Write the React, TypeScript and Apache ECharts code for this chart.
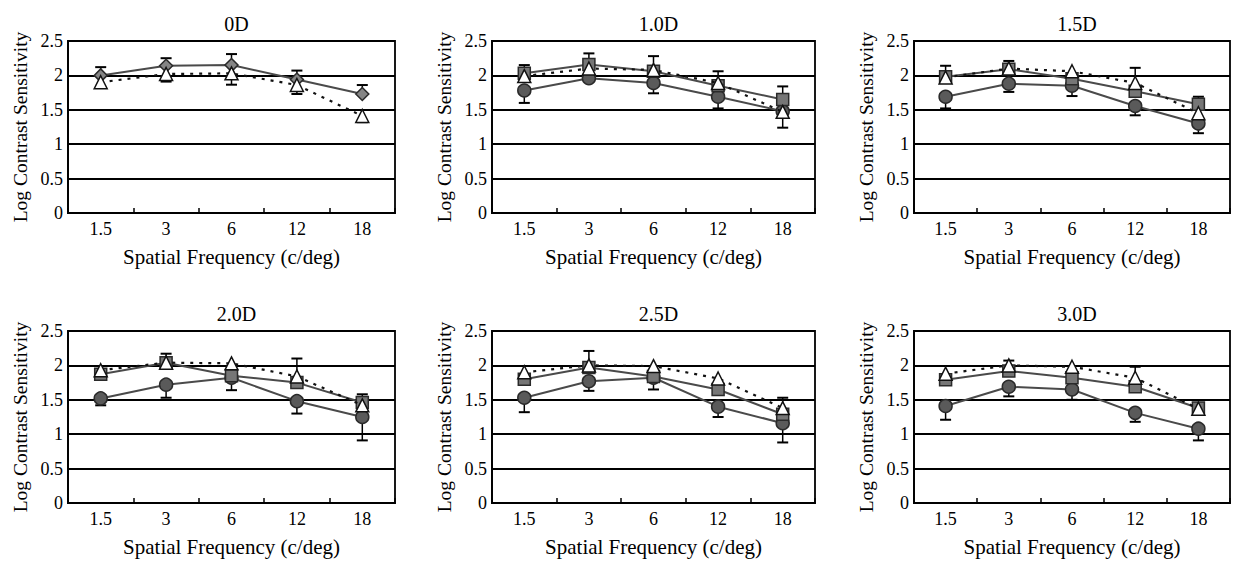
import React, { useEffect, useRef } from "react";
import * as echarts from "echarts";

// ---------- data ----------
const xCategories = ["1.5", "3", "6", "12", "18"];
const panelTitles = ["0D", "1.0D", "1.5D", "2.0D", "2.5D", "3.0D"];
const yTicks = [0, 0.5, 1, 1.5, 2, 2.5];

// 0D
const p0_diamond = [2.0, 2.14, 2.15, 1.94, 1.73];
const p0_diamondHigh = [2.12, 2.25, 2.31, 2.07, 1.86];
const p0_triangle = [1.9, 2.02, 2.03, 1.86, 1.41];
const p0_triangleLow = [1.82, 1.91, 1.865, 1.73, 1.32];

// 1.0D
const p1_circle = [1.78, 1.96, 1.89, 1.69, 1.48];
const p1_circleLow = [1.6, 1.96, 1.74, 1.52, 1.48];
const p1_square = [2.03, 2.16, 2.06, 1.85, 1.65];
const p1_squareHigh = [2.15, 2.32, 2.06, 1.85, 1.84];
const p1_triangle = [1.99, 2.1, 2.08, 1.89, 1.47];
const p1_triangleHigh = [1.99, 2.1, 2.28, 2.06, 1.47];
const p1_triangleLow = [1.99, 2.1, 2.08, 1.89, 1.24];

// 1.5D
const p2_circle = [1.69, 1.88, 1.85, 1.555, 1.3];
const p2_circleLow = [1.52, 1.76, 1.7, 1.42, 1.16];
const p2_square = [1.98, 2.09, 1.95, 1.77, 1.58];
const p2_squareHigh = [2.14, 2.21, 1.95, 1.77, 1.69];
const p2_triangle = [1.97, 2.1, 2.06, 1.89, 1.45];
const p2_triangleHigh = [1.97, 2.1, 2.06, 2.11, 1.45];

// 2.0D
const p3_circle = [1.52, 1.72, 1.82, 1.48, 1.25];
const p3_circleLow = [1.42, 1.53, 1.64, 1.3, 0.91];
const p3_square = [1.87, 2.04, 1.85, 1.75, 1.46];
const p3_squareHigh = [1.87, 2.17, 1.85, 1.75, 1.58];
const p3_triangle = [1.93, 2.04, 2.03, 1.84, 1.42];
const p3_triangleHigh = [1.93, 2.04, 2.03, 2.1, 1.42];

// 2.5D
const p4_circle = [1.53, 1.77, 1.82, 1.4, 1.16];
const p4_circleLow = [1.32, 1.63, 1.65, 1.25, 0.88];
const p4_square = [1.8, 1.97, 1.84, 1.65, 1.29];
const p4_squareHigh = [1.8, 2.21, 1.84, 1.65, 1.53];
const p4_triangle = [1.9, 2.0, 1.99, 1.81, 1.38];

// 3.0D
const p5_circle = [1.41, 1.69, 1.65, 1.31, 1.08];
const p5_circleLow = [1.21, 1.55, 1.5, 1.18, 0.91];
const p5_square = [1.79, 1.92, 1.82, 1.69, 1.38];
const p5_squareHigh = [1.79, 2.07, 1.82, 1.69, 1.38];
const p5_triangle = [1.88, 2.0, 1.98, 1.82, 1.37];
const p5_triangleHigh = [1.88, 2.0, 1.98, 1.98, 1.37];

type Kind = "circle" | "square" | "triangle" | "diamond";
interface SeriesDef {
  kind: Kind;
  values: number[];
  low?: number[];
  high?: number[];
}

const panels: SeriesDef[][] = [
  [
    { kind: "diamond", values: p0_diamond, high: p0_diamondHigh },
    { kind: "triangle", values: p0_triangle, low: p0_triangleLow },
  ],
  [
    { kind: "circle", values: p1_circle, low: p1_circleLow },
    { kind: "square", values: p1_square, high: p1_squareHigh },
    { kind: "triangle", values: p1_triangle, low: p1_triangleLow, high: p1_triangleHigh },
  ],
  [
    { kind: "circle", values: p2_circle, low: p2_circleLow },
    { kind: "square", values: p2_square, high: p2_squareHigh },
    { kind: "triangle", values: p2_triangle, high: p2_triangleHigh },
  ],
  [
    { kind: "circle", values: p3_circle, low: p3_circleLow },
    { kind: "square", values: p3_square, high: p3_squareHigh },
    { kind: "triangle", values: p3_triangle, high: p3_triangleHigh },
  ],
  [
    { kind: "circle", values: p4_circle, low: p4_circleLow },
    { kind: "square", values: p4_square, high: p4_squareHigh },
    { kind: "triangle", values: p4_triangle },
  ],
  [
    { kind: "circle", values: p5_circle, low: p5_circleLow },
    { kind: "square", values: p5_square, high: p5_squareHigh },
    { kind: "triangle", values: p5_triangle, high: p5_triangleHigh },
  ],
];

// ---------- layout ----------
const colLeft = [68, 492, 914];
const colWidth = [327, 323, 316];
const rowTop = [41, 331];
const rowHeight = 172;
const FONT = "Liberation Serif, Times New Roman, serif";

const styleFor: Record<Kind, any> = {
  circle: { symbol: "circle", symbolSize: 13, fill: "#5a5a5a", border: "#2a2a2a", line: "#4a4a4a", dash: "solid", z: 3 },
  square: { symbol: "rect", symbolSize: 12, fill: "#767676", border: "#2a2a2a", line: "#4a4a4a", dash: "solid", z: 4 },
  diamond: { symbol: "diamond", symbolSize: 13, fill: "#858585", border: "#2a2a2a", line: "#4a4a4a", dash: "solid", z: 4 },
  triangle: { symbol: "triangle", symbolSize: 13, fill: "#ffffff", border: "#111", line: "#111", dash: [3, 6], z: 5 },
};

function buildOption() {
  const grid: any[] = [];
  const xAxis: any[] = [];
  const yAxis: any[] = [];
  const title: any[] = [];
  const series: any[] = [];

  panels.forEach((defs, p) => {
    const c = p % 3;
    const r = Math.floor(p / 3);
    const left = colLeft[c];
    const width = colWidth[c];
    const top = rowTop[r];
    grid.push({
      left,
      top,
      width,
      height: rowHeight,
      show: true,
      borderColor: "#000",
      borderWidth: 1.8,
      backgroundColor: "transparent",
    });
    title.push({
      text: panelTitles[p],
      left: left + width / 2,
      top: top - 32,
      textAlign: "center",
      textStyle: { fontFamily: FONT, fontSize: 20, fontWeight: "normal", color: "#000" },
    });
    xAxis.push({
      type: "category",
      gridIndex: p,
      data: xCategories,
      boundaryGap: true,
      axisLine: { lineStyle: { color: "#000", width: 1.8 } },
      axisTick: { show: true, inside: true, length: 5, alignWithLabel: false, lineStyle: { color: "#000", width: 1.5 } },
      axisLabel: { fontFamily: FONT, fontSize: 18, color: "#000", margin: 7 },
      name: "Spatial Frequency (c/deg)",
      nameLocation: "middle",
      nameGap: 33,
      nameTextStyle: { fontFamily: FONT, fontSize: 21, color: "#000" },
      splitLine: { show: false },
    });
    yAxis.push({
      type: "value",
      gridIndex: p,
      min: yTicks[0],
      max: yTicks[yTicks.length - 1],
      interval: 0.5,
      axisLine: { show: true, lineStyle: { color: "#000", width: 1.8 } },
      axisTick: { show: false },
      axisLabel: { fontFamily: FONT, fontSize: 18, color: "#000", margin: 5 },
      splitLine: { show: true, lineStyle: { color: "#000", width: 1.8 } },
      name: "Log Contrast Sensitivity",
      nameLocation: "middle",
      nameGap: 38,
      nameRotate: 90,
      nameTextStyle: { fontFamily: FONT, fontSize: 19.5, color: "#000" },
    });

    defs.forEach((d) => {
      const st = styleFor[d.kind];
      const errData = d.values.map((v, i) => [
        i,
        d.low ? d.low[i] : v,
        d.high ? d.high[i] : v,
        v,
      ]);
      series.push({
        type: "custom",
        xAxisIndex: p,
        yAxisIndex: p,
        z: 2,
        silent: true,
        data: errData,
        renderItem: (params: any, api: any) => {
          const i = api.value(0);
          const lo = api.value(1);
          const hi = api.value(2);
          const v = api.value(3);
          const pLo = api.coord([i, lo]);
          const pHi = api.coord([i, hi]);
          const pV = api.coord([i, v]);
          const cap = 5.5;
          const children: any[] = [];
          const ls = { stroke: "#000", lineWidth: 1.5 };
          if (hi > v) {
            children.push({ type: "line", shape: { x1: pV[0], y1: pV[1], x2: pHi[0], y2: pHi[1] }, style: ls });
            children.push({ type: "line", shape: { x1: pHi[0] - cap, y1: pHi[1], x2: pHi[0] + cap, y2: pHi[1] }, style: { stroke: "#000", lineWidth: 2 } });
          }
          if (lo < v) {
            children.push({ type: "line", shape: { x1: pV[0], y1: pV[1], x2: pLo[0], y2: pLo[1] }, style: ls });
            children.push({ type: "line", shape: { x1: pLo[0] - cap, y1: pLo[1], x2: pLo[0] + cap, y2: pLo[1] }, style: { stroke: "#000", lineWidth: 2 } });
          }
          return { type: "group", children };
        },
      });
      series.push({
        type: "line",
        xAxisIndex: p,
        yAxisIndex: p,
        z: st.z,
        data: d.values,
        symbol: st.symbol,
        symbolSize: st.symbolSize,
        showSymbol: true,
        lineStyle: { color: st.line, width: st.dash === "solid" ? 2 : 2.2, type: st.dash },
        itemStyle: { color: st.fill, borderColor: st.border, borderWidth: 1.5 },
        silent: true,
      });
    });
  });

  return {
    animation: false,
    backgroundColor: "#fff",
    textStyle: { fontFamily: FONT },
    title,
    grid,
    xAxis,
    yAxis,
    series,
  };
}

export default function App() {
  const ref = useRef<HTMLDivElement>(null);
  useEffect(() => {
    if (!ref.current) return;
    const chart = echarts.init(ref.current, undefined, { renderer: "svg" });
    chart.setOption(buildOption() as any);
    return () => chart.dispose();
  }, []);
  return (
    <div
      ref={ref}
      style={{ position: "absolute", left: 0, top: 0, width: 1234, height: 563, background: "#fff" }}
    />
  );
}
